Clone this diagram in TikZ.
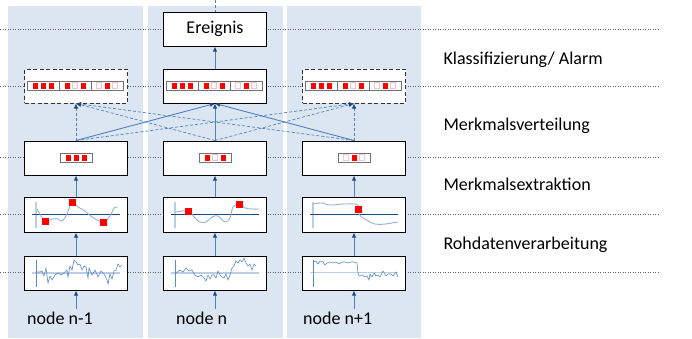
\documentclass[tikz,border=0pt]{standalone}
\usepackage{fontspec}
\setmainfont{Carlito}
\usetikzlibrary{arrows.meta}
\definecolor{lanebg}{HTML}{DCE6F2}
\definecolor{flowblue}{HTML}{4F81BD}
\definecolor{tipblue}{HTML}{1F497D}
\definecolor{siglight}{HTML}{95B3D7}
\definecolor{rawblue}{HTML}{5B8BC6}
\definecolor{axislight}{HTML}{B9CDE5}
\definecolor{offred}{HTML}{F7C4C4}
\newcommand{\mcell}[5]{%
	\draw[cellframe] (#1-16,#2-4.5) rectangle (#1+16,#2+4.5);
	\path[#3] (#1-10.5,#2-3) rectangle (#1-5.5,#2+3);
	\path[#4] (#1-2.5,#2-3) rectangle (#1+2.5,#2+3);
	\path[#5] (#1+5.5,#2-3) rectangle (#1+10.5,#2+3);
}
\newcommand{\mstrip}[2]{%
	\mcell{#1-32}{#2}{sqon}{sqon}{sqon}
	\mcell{#1}{#2}{sqon}{sqoff}{sqon}
	\mcell{#1+32}{#2}{sqoff}{sqon}{sqoff}
}
\newcommand{\redsq}[2]{\fill[red] (#1-3.5,#2-3.5) rectangle (#1+3.5,#2+3.5);}

\begin{document}
\begin{tikzpicture}[x=1pt,y=-1pt,
	font=\fontsize{18}{21}\selectfont,
	lane/.style={fill=lanebg},
	level/.style={draw=black!60, line width=0.8pt, dash pattern=on 1.2pt off 1.3pt},
	box/.style={draw=black, line width=1pt, fill=white, minimum width=103pt, minimum height=34pt, inner sep=0pt},
	dbox/.style={box, draw=black!80, dash pattern=on 4pt off 2.5pt},
	flow/.style={draw=flowblue, line width=0.9pt, -{Latex[length=5pt,width=4.5pt,color=tipblue]}},
	xflow/.style={flow, line width=0.7pt, dash pattern=on 3pt off 2pt},
	cellframe/.style={draw=black!55, line width=0.8pt, fill=white},
	sqon/.style={fill=red},
	sqoff/.style={draw=offred, line width=0.7pt},
	sig/.style={draw=siglight, line width=0.9pt},
	raw/.style={draw=rawblue, line width=0.6pt},
	axis/.style={draw=axislight, line width=1.4pt}]
	\useasboundingbox (0,0) rectangle (692,338);
	\fill[lane] (8,6) rectangle (143,338);
	\fill[lane] (148,6) rectangle (283,338);
	\fill[lane] (287,6) rectangle (421,338);
	\foreach \ly in {29,86,157.5,214,272}
		\draw[level] (0,\ly) -- (660,\ly);
	\node[anchor = base west] (lvcls) at (440,64) {Klassifizierung/ Alarm};
	\node[anchor = base west] (lvdist) at (440,130) {Merkmalsverteilung};
	\node[anchor = base west] (lvfeat) at (440,190.5) {Merkmalsextraktion};
	\node[anchor = base west] (lvraw) at (440,249) {Rohdatenverarbeitung};
	\node[box] (ereig) at (215,29) {Ereignis};
	\node[dbox] (cls1) at (76,86) {};
	\node[box] (cls2) at (215,86) {};
	\node[dbox] (cls3) at (354,86) {};
	\node[box] (dist1) at (76,158) {};
	\node[box] (dist2) at (215,158) {};
	\node[box] (dist3) at (354,158) {};
	\node[box, minimum height=35pt] (feat1) at (76,214.5) {};
	\node[box, minimum height=35pt] (feat2) at (215,214.5) {};
	\node[box, minimum height=35pt] (feat3) at (354,214.5) {};
	\node[box] (raw1) at (76,273) {};
	\node[box] (raw2) at (215,273) {};
	\node[box] (raw3) at (354,273) {};
	\node[anchor = base west, inner sep=0pt] (lbl1) at (27,324) {node n-1};
	\node[anchor = base west, inner sep=0pt] (lbl2) at (176,324) {node n};
	\node[anchor = base west, inner sep=0pt] (lbl3) at (303,324) {node n+1};
	\coordinate (top) at (215,0);
	\draw[xflow, -] (top) -- (ereig.north);
	\draw[flow] (cls2) -- (ereig);
	\draw[flow] (dist1.north) -- (cls2.south);
	\draw[flow] (dist2.north) -- (cls2.south);
	\draw[flow] (dist3.north) -- (cls2.south);
	\foreach \c in {cls1,cls3}
		\foreach \d in {dist1,dist2,dist3}
			\draw[xflow] (\d.north) -- (\c.south);
	\foreach \i in {1,2,3} {
		\draw[flow] (feat\i) -- (dist\i);
		\draw[flow] (raw\i) -- (feat\i);
		\draw[flow] (raw\i.south |- lbl\i.north) ++(0,-2) -- (raw\i.south);
	}
	\mstrip{75}{85.5}
	\mstrip{214}{85.5}
	\mstrip{353}{85.5}
	\mcell{76}{157.5}{sqon}{sqon}{sqon}
	\mcell{215}{157.5}{sqon}{sqoff}{sqon}
	\mcell{354}{157.5}{sqoff}{sqon}{sqoff}
	\draw[axis] (36,202) -- (36,228);
	\draw[axis] (175,202) -- (175,228);
	\draw[axis] (313,202) -- (313,228);
	\draw[tipblue, line width=1pt] (32,214) -- (120,214);
	\draw[tipblue, line width=1pt] (171,214) -- (259,214);
	\draw[tipblue, line width=1pt] (310,214) -- (398,214);
	\draw[sig] plot[smooth, tension=0.6] coordinates {(37,209) (45,221) (52,219) (58,219) (62,221) (67,214) (72,202) (78,207) (85,211) (92,217) (103,222) (110,216) (114,208) (118,207)};
	\draw[sig] plot[smooth, tension=0.6] coordinates {(176,212) (188,211) (195,218) (200,222) (206,222) (212,217) (218,216) (225,222) (230,218) (233,207) (239,204) (245,208) (252,209) (259,209)};
	\draw[sig] plot[smooth, tension=0.6] coordinates {(313,204) (322,203) (330,205) (345,204) (358,205) (359,214) (365,219) (375,224) (385,224) (398,222)};
	\redsq{45}{221}
	\redsq{72}{202}
	\redsq{103}{222}
	\redsq{188}{211}
	\redsq{239}{204}
	\redsq{358}{209}
	\draw[axis] (32,273) -- (120,273);
	\draw[axis] (171,273) -- (259,273);
	\draw[axis] (310,272.5) -- (398,272.5);
	\draw[raw] (36,260) -- (36,287);
	\draw[raw] (175,260) -- (175,287);
	\draw[raw] (313,260) -- (313,287);
	\draw[raw] plot coordinates {(37,272) (40,272) (42,271) (44,276) (46,268) (48,283) (50,276) (52,280) (55,275) (58,273) (61,275) (64,273) (67,270) (68,277) (70,266) (72,270) (74,260) (76,262) (78,265) (80,264) (82,270) (84,266) (86,267) (88,278) (89,268) (92,275) (95,270) (98,277) (101,271) (104,274) (107,280) (108,284) (110,274) (112,279) (114,271) (116,270) (118,264) (120,267) (122,265)};
	\draw[raw] plot coordinates {(176,273) (180,270) (183,272) (186,268) (189,271) (192,270) (195,275) (198,277) (201,275) (204,278) (206,281) (208,275) (210,279) (212,275) (214,275) (216,278) (218,271) (220,275) (222,277) (224,278) (226,274) (228,280) (230,275) (232,268) (234,266) (236,261) (238,263) (240,260) (242,262) (244,258) (246,263) (248,266) (250,264) (252,270) (254,264) (256,266)};
	\draw[raw] plot coordinates {(313,262) (316,261) (318,264) (320,261) (323,262) (325,265) (327,263) (330,262) (333,263) (336,262) (339,264) (342,262) (345,262) (348,263) (351,262) (354,262) (357,263) (358,273) (359,276) (362,275) (365,277) (367,276) (369,280) (370,274) (372,277) (374,273) (376,276) (378,275) (380,277) (383,271) (386,276) (388,274) (391,274) (393,276) (396,272) (398,277)};
\end{tikzpicture}
\end{document}
